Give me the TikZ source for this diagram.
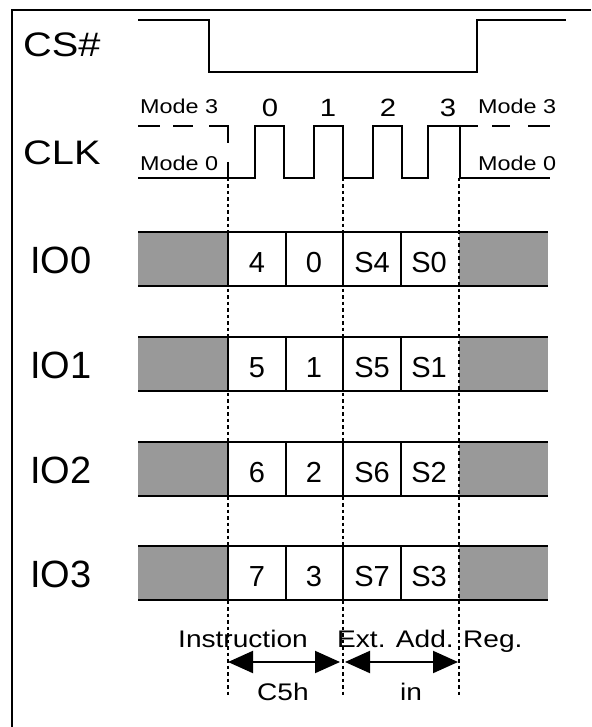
\documentclass[tikz,border=0pt]{standalone}
\usepackage{fontspec}
\setmainfont{Liberation Sans}
\usetikzlibrary{arrows.meta}
\definecolor{fillgray}{RGB}{153,153,153}
\newcommand{\sx}[1]{\scalebox{1.17}[1]{#1}}
\begin{document}
\begin{tikzpicture}[x=1pt,y=-1pt,
  sig/.style={line width=2pt, line join=miter},
  frameline/.style={line width=2.5pt},
  dotline/.style={line width=2pt, dash pattern=on 3.5pt off 3pt},
  dimarrow/.style={line width=2pt, {Triangle[length=25pt,width=22pt]}-{Triangle[length=25pt,width=22pt]}},
  txt/.style={inner sep=0pt, anchor=base west},
  ctxt/.style={inner sep=0pt, anchor=base},
  sigfont/.style={font=\fontsize{34}{36}\selectfont},
  iofont/.style={font=\fontsize{38}{40}\selectfont},
  modefont/.style={font=\fontsize{20}{22}\selectfont},
  numfont/.style={font=\fontsize{25}{27}\selectfont},
  cellfont/.style={font=\fontsize{29}{31}\selectfont},
  botfont/.style={font=\fontsize{24}{26}\selectfont}]
\useasboundingbox (0,0) rectangle (591,727);
% frame
\draw[frameline] (12,727) -- (12,10) -- (591,10);
% CS#
\node[txt, sigfont] (cs) at (23,57) {\sx{CS\#}};
\draw[sig] (138,20) -- (209,20) -- (209,72) -- (477,72) -- (477,20) -- (566,20);
% CLK
\node[txt, sigfont] (clk) at (23,165) {\sx{CLK}};
\node[txt, modefont] (m3l) at (140,114) {\sx{Mode 3}};
\node[txt, modefont] (m0l) at (140,171) {\sx{Mode 0}};
\node[txt, modefont] (m3r) at (478,114) {\sx{Mode 3}};
\node[txt, modefont] (m0r) at (478,171) {\sx{Mode 0}};
\node[ctxt, numfont] (n0) at (270,117) {\sx{0}};
\node[ctxt, numfont] (n1) at (328,117) {\sx{1}};
\node[ctxt, numfont] (n2) at (388,117) {\sx{2}};
\node[ctxt, numfont] (n3) at (448,117) {\sx{3}};
\draw[sig] (138,126) -- (160,126);
\draw[sig] (173,126) -- (193,126);
\draw[sig] (209,126) -- (228,126) -- (228,143);
\draw[sig] (228,162) -- (228,178);
\draw[sig] (138,178) -- (255,178) -- (255,126) -- (284,126) -- (284,178)
  -- (314,178) -- (314,126) -- (343,126) -- (343,178)
  -- (373,178) -- (373,126) -- (402,126) -- (402,178)
  -- (428,178) -- (428,126) -- (460,126) -- (460,178) -- (550,178);
\draw[sig] (460,126) -- (478,126);
\draw[sig] (492,126) -- (510,126);
\draw[sig] (528,126) -- (550,126);
% IO rows
\foreach \r/\b/\ca/\cb/\cc/\cd in {0/286/4/0/S4/S0, 1/391/5/1/S5/S1, 2/496/6/2/S6/S2, 3/600/7/3/S7/S3} {
  \fill[fillgray] (138,{\b-54}) rectangle (228,\b);
  \fill[fillgray] (459,{\b-54}) rectangle (548,\b);
  \draw[sig] (138,{\b-54}) -- (548,{\b-54});
  \draw[sig] (138,\b) -- (548,\b);
  \foreach \vx in {228,286,343,401} {
    \draw[sig] (\vx,{\b-54}) -- (\vx,\b);
  }
  \node[txt, iofont] (io\r) at (30,{\b-13}) {IO\r};
  \node[ctxt, cellfont] (ca\r) at (257,{\b-14}) {\ca};
  \node[ctxt, cellfont] (cb\r) at (314,{\b-14}) {\cb};
  \node[ctxt, cellfont] (cc\r) at (372,{\b-14}) {\cc};
  \node[ctxt, cellfont] (cd\r) at (429,{\b-14}) {\cd};
}
% dotted guide lines
\coordinate (d1t) at (228,178);
\coordinate (d1b) at (228,698);
\coordinate (d2t) at (343,178);
\coordinate (d2b) at (343,698);
\coordinate (d3t) at (459,178);
\coordinate (d3b) at (459,698);
\draw[dotline] (d1t) -- (d1b);
\draw[dotline] (d2t) -- (d2b);
\draw[dotline] (d3t) -- (d3b);
% bottom labels and arrows
\node[txt, botfont] (instr) at (178,647) {\sx{Instruction}};
\node[txt, botfont] (ext) at (337,647) {\sx{Ext. Add.}};
\node[txt, botfont] (reg) at (463,647) {\sx{Reg.}};
\node[txt, botfont] (c5h) at (257,700) {\sx{C5h}};
\node[txt, botfont] (inl) at (400,700) {\sx{in}};
\coordinate (a1l) at (228,662);
\coordinate (a1r) at (340,662);
\coordinate (a2l) at (345,662);
\coordinate (a2r) at (458,662);
\draw[dimarrow] (a1l) -- (a1r);
\draw[dimarrow] (a2l) -- (a2r);
\end{tikzpicture}
\end{document}
